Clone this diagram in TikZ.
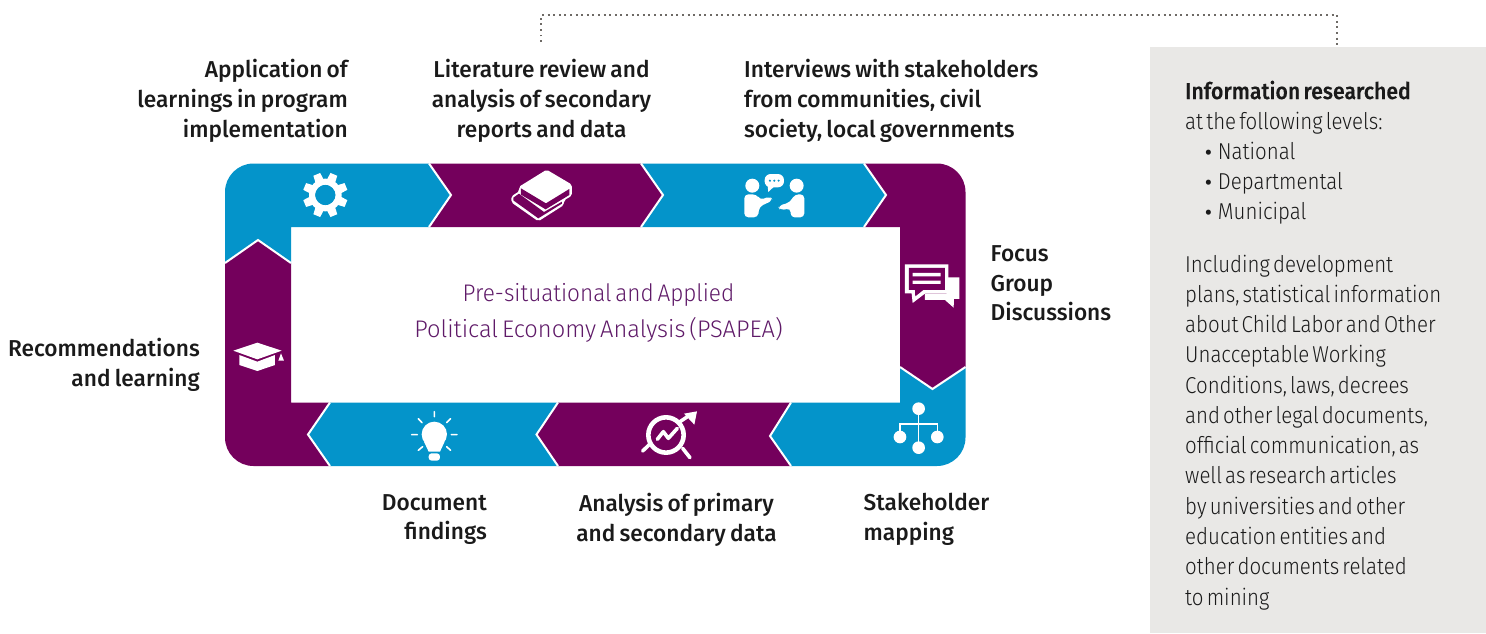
\documentclass[tikz,border=0pt]{standalone}
\usepackage{fontspec}
\setmainfont{Fira Sans}
\newfontfamily\lightf{Fira Sans Light}[FakeStretch=0.89,WordSpace=0.55]
\newfontfamily\coref{Fira Sans Light}[FakeStretch=0.94,WordSpace=0.6]
\newfontfamily\corefb{Fira Sans Light}[FakeStretch=0.985,WordSpace=0.6]
\newfontfamily\labf{Fira Sans Medium}[FakeStretch=0.985,WordSpace=0.75]
\newfontfamily\headf{Fira Sans Medium}[FakeBold=0.4,FakeStretch=0.925,WordSpace=0.6]
\newfontfamily\bulf{Fira Sans Medium}
\definecolor{pblue}{HTML}{0494CA}
\definecolor{ppurple}{HTML}{74005C}
\definecolor{ptext}{HTML}{5F1A68}
\definecolor{pgrey}{HTML}{E9E8E6}
\definecolor{pdot}{HTML}{6E6A66}
\definecolor{ink}{HTML}{1A1A1A}
\tikzset{
 x=1pt,y=-1pt,
 sep/.style={draw=white,line width=2pt},
 lab/.style={inner sep=0pt,font=\labf\fontsize{23}{29.7}\selectfont,text=ink},
 panel/.style={inner sep=0pt,anchor=north west,align=left,font=\lightf\fontsize{23}{30.1}\selectfont,text=ink},
 iconl/.style={draw=white,line cap=round,line join=round},
 zoomA/.style={shift={(220,155)},x=0.3333pt,y=-0.3333pt},
 zoomB/.style={shift={(600,155)},x=0.3333pt,y=-0.3333pt},
 zoomC/.style={shift={(220,320)},x=0.3333pt,y=-0.3333pt},
 zoomD/.style={shift={(600,320)},x=0.3333pt,y=-0.3333pt},
}
\newcommand{\blt}{\hspace*{20pt}{\bulf\fontsize{20}{20}\selectfont •}\hspace*{6pt}}
\begin{document}
\begin{tikzpicture}
\useasboundingbox (0,0) rectangle (1486,633);
% side panel
\fill[pgrey] (1150,47) rectangle (1486,633);
\draw[pdot,line width=1.9pt,dash pattern=on 1.9pt off 3.7pt] (541,42) -- (541,15) -- (1337,15) -- (1337,45);
% ring segments
\fill[pblue] (225,263) -- (225,192) arc[start angle=180,end angle=270,radius=28.5] -- (429,163.5) -- (451,195) -- (429,227) -- (291,227) -- (291,263) -- (258,240) -- cycle;
\fill[ppurple] (429,163.5) -- (641,163.5) -- (663,195) -- (641,227) -- (429,227) -- (451,195) -- cycle;
\fill[pblue] (641,163.5) -- (864,163.5) -- (886,195) -- (864,227) -- (641,227) -- (663,195) -- cycle;
\fill[ppurple] (864,163.5) -- (937,163.5) arc[start angle=270,end angle=360,radius=28.5] -- (965.5,367) -- (932.5,389) -- (900,367) -- (900,227) -- (864,227) -- (886,195) -- cycle;
\fill[pblue] (965.5,367) -- (965.5,437.5) arc[start angle=0,end angle=90,radius=28.5] -- (791,466) -- (770,436) -- (791,402.5) -- (900,402.5) -- (900,367) -- (932.5,389) -- cycle;
\fill[ppurple] (791,402.5) -- (558,402.5) -- (536.5,434.5) -- (558,466) -- (791,466) -- (770,436) -- cycle;
\fill[pblue] (558,402.5) -- (330,402.5) -- (308,434.5) -- (330,466) -- (558,466) -- (536.5,434.5) -- cycle;
\fill[ppurple] (330,402.5) -- (291,402.5) -- (291,263) -- (258,240) -- (225,263) -- (225,437.5) arc[start angle=180,end angle=90,radius=28.5] -- (330,466) -- (308,434.5) -- cycle;
% separators
\draw[sep] (429,163.5) -- (451,195) -- (429,227);
\draw[sep] (641,163.5) -- (663,195) -- (641,227);
\draw[sep] (864,163.5) -- (886,195) -- (864,227);
\draw[sep] (900,367) -- (932.5,389) -- (965.5,367);
\draw[sep] (791,402.5) -- (770,436) -- (791,466);
\draw[sep] (558,402.5) -- (536.5,434.5) -- (558,466);
\draw[sep] (330,402.5) -- (308,434.5) -- (330,466);
\draw[sep] (225,263) -- (258,240) -- (291,263);
% gear
\begin{scope}[zoomA]
\foreach \a in {0,45,...,315}{
 \fill[white,rotate around={\a+22.5:(316,120)}] (305,53) -- (327,53) -- (331,95) -- (301,95) -- cycle;
}
\fill[pblue] (316,120) circle[radius=31];
\draw[white,line width=6pt] (316,120) circle[radius=40];
% books
\fill[white,rounded corners=2pt] (980,44) -- (1056,89) -- (1056,122) -- (1032,136) -- (1032,150) -- (955,199) -- (874,142) -- (874,124) -- (899,108) -- (896,96) -- cycle;
\fill[ppurple] (903,100) -- (978,145) -- (1048,102) -- (1048,120) -- (977,163) -- (903,119) -- cycle;
\fill[ppurple] (897,116) -- (972,171) -- (1026,140) -- (1026,146) -- (955,190) -- (880,136) -- (880,128) -- cycle;
\end{scope}
\begin{scope}[zoomB]
% people
\fill[white] (457,92) circle[radius=21] (590,92) circle[radius=21];
\fill[white,rounded corners=4pt] (433,187) -- (433,118) -- (470,118) -- (480,135) -- (510,124) -- (519,136) -- (478,155) -- (474,187) -- cycle;
\fill[white,rounded corners=4pt] (613,187) -- (613,118) -- (584,118) -- (570,142) -- (534,153) -- (540,166) -- (572,160) -- (572,187) -- cycle;
\fill[white,rounded corners=6pt] (494,57) rectangle (552,97);
\fill[white] (503,92) -- (505,111) -- (525,92) -- cycle;
\fill[pblue] (510,77) circle[radius=3.5] (523,77) circle[radius=3.5] (536,77) circle[radius=3.5];
% chat
\fill[white] (1040,367) -- (1078,367) -- (1078,432) -- (1062,432) -- (1061,458) -- (1035,435) -- (975,435) -- (975,415) -- (1040,415) -- cycle;
\fill[white] (915,328) -- (1045,328) -- (1045,415) -- (976,415) -- (938,444) -- (935,415) -- (915,415) -- cycle;
\fill[ppurple] (927,339) -- (1035,339) -- (1035,405) -- (970,405) -- (946,424) -- (945,405) -- (927,405) -- cycle;
\fill[white] (938,354) rectangle (1022,364) (938,377) rectangle (1022,387);
\end{scope}
\begin{scope}[zoomC]
% cap
\fill[white] (40,92) -- (112,68) -- (185,92) -- (112,118) -- cycle;
\fill[white] (58,105) -- (112,125) -- (165,105) -- (165,135) -- (112,153) -- (58,135) -- cycle;
\fill[white] (183,100) -- (175,122) -- (192,122) -- cycle;
% bulb
\fill[white] (643,343) circle[radius=38];
\fill[white] (612,365) -- (674,365) -- (660,395) -- (626,395) -- cycle;
\fill[white,rounded corners=3pt] (626,400) rectangle (660,422);
\draw[iconl,line width=1.6pt] (643,275) -- (643,290) (595,296) -- (606,308) (692,296) -- (680,308) (575,344) -- (592,344) (694,344) -- (711,344) (595,391) -- (608,380) (692,391) -- (680,380);
\end{scope}
\begin{scope}[zoomD]
% chart magnifier
\draw[white,line width=4.6pt] (198,345) circle[radius=53];
\draw[iconl,line width=3.6pt] (128,393) -- (150,372) (248,385) -- (270,413) (240,305) -- (270,285);
\fill[white] (252,281) -- (291,274) -- (283,314) -- cycle;
\draw[iconl,line width=3.6pt] (172,358) -- (190,335) -- (205,355) -- (232,325);
% tree
\draw[white,line width=1.6pt] (956,266) -- (956,383) (900,351) -- (900,312) -- (1012,312) -- (1012,351);
\fill[white] (956,266) circle[radius=19] (900,351) circle[radius=19] (1012,351) circle[radius=19] (956,383) circle[radius=19];
\end{scope}
% labels
\node[lab,anchor=east,align=right] (app) at (348,101) {Application of\\learnings in program\\implementation};
\node[lab,align=center] (lit) at (541.5,101) {Literature review and\\analysis of secondary\\reports and data};
\node[lab,anchor=west,align=left] (int) at (744,101) {Interviews with stakeholders\\from communities, civil\\society, local governments};
\node[lab,anchor=west,align=left] (foc) at (990.5,283.5) {Focus\\Group\\Discussions};
\node[lab,anchor=east,align=right] (rec) at (200,365) {Recommendations\\and learning};
\node[lab,anchor=east,align=right] (doc) at (487,519.5) {Document\\findings};
\node[lab,align=center] (ana) at (676.5,519.5) {Analysis of primary\\and secondary data};
\node[lab,anchor=west,align=left] (sta) at (863.5,519.5) {Stakeholder\\mapping};
\node[inner sep=0pt,align=center,text=ptext,font=\coref\fontsize{24}{36.5}\selectfont] (core) at (598.5,313) {Pre-situational and Applied\\{\corefb Political Economy Analysis (PSAPEA)}};
% panel text
\node[panel] (info) at (1185,80.5) {{\headf Information researched}\\at the following levels:\\\blt National\\\blt Departmental\\\blt Municipal};
\node[panel,font=\lightf\fontsize{23}{30.28}\selectfont] (incl) at (1185,254.5) {Including development\\plans, statistical information\\about Child Labor and Other\\Unacceptable Working\\Conditions, laws, decrees\\and other legal documents,\\official communication, as\\well as research articles\\by universities and other\\education entities and\\other documents related\\to mining};
\end{tikzpicture}
\end{document}
